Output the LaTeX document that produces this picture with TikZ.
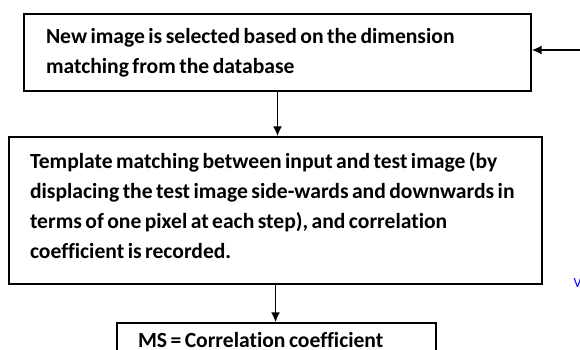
\documentclass[tikz,border=0pt]{standalone}
\usepackage{fontspec}
\setmainfont{Carlito}[Ligatures=NoCommon]
\usetikzlibrary{arrows.meta}
\newcommand{\tsp}{\spaceskip=0.16em plus 0.05em minus 0.05em\relax}
\begin{document}
\begin{tikzpicture}[x=1pt,y=-1pt,
  box/.style={draw=black, line width=1.3pt, rectangle, align=left, inner ysep=0pt,
    font=\fontsize{21.6}{30}\selectfont\bfseries, execute at begin node=\tsp, text height=16pt},
  flow/.style={draw=black, line width=1.9pt, -{Latex[length=10pt,width=9pt]}}]
\useasboundingbox (0,0) rectangle (580,350);
\clip (0,0) rectangle (580,350);
\node[box, minimum width=507pt, minimum height=77pt, inner xsep=22pt, text width=463pt, text depth=33pt]
  (b1) at (277.5,52.5) {New image is selected based on the dimension\\matching from the database};
\node[box, minimum width=533pt, minimum height=147pt, inner xsep=21pt, text width=491pt, text depth=101pt]
  (b2) at (275.5,210.5) {\mbox{Template matching between input and test image (by}\\\mbox{displacing the test image side-wards and downwards in}\\\mbox{terms of one pixel at each step), and correlation}\\coefficient is recorded.};
\node[box, minimum width=319pt, minimum height=60pt, inner xsep=21pt, text width=277pt, text depth=28pt]
  (b3) at (276.5,353) {MS = Correlation coefficient};
\node[text=blue, anchor=base west, inner sep=0pt, font=\fontsize{14}{16}\selectfont] (v) at (573.5,287) {V};
\coordinate (in) at (580,50);
\draw[flow] (in) -- (in -| b1.east);
\draw[flow] (b1.south) -- (b1.south |- b2.north);
\draw[flow] (b2.south) -- (b2.south |- b3.north);
\end{tikzpicture}
\end{document}
